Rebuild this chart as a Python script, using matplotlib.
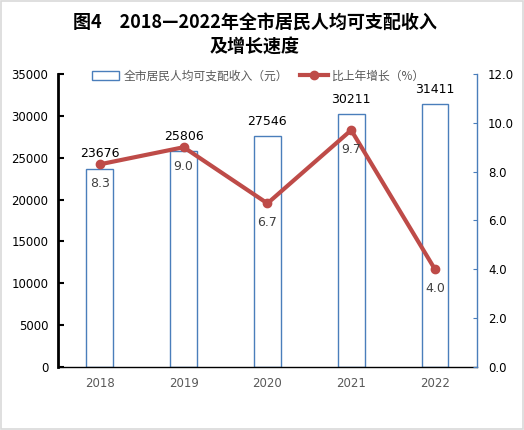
import matplotlib.pyplot as plt
import numpy as np

plt.rcParams['font.family'] = ['DejaVu Sans', 'Noto Sans CJK SC']

# data
years = ['2018', '2019', '2020', '2021', '2022']
income = [23676, 25806, 27546, 30211, 31411]
growth = [8.3, 9.0, 6.7, 9.7, 4.0]

bar_color = '#4A7EBB'
line_color = '#BE4B48'

fig = plt.figure(figsize=(5.24, 4.3), dpi=100)
fig.patches.append(plt.Rectangle((0.002, 0.002), 0.996, 0.996, transform=fig.transFigure,
                                 fill=False, edgecolor='#D9D9D9', linewidth=1.2))

ax = fig.add_axes([0.1107, 0.1465, 0.7993, 0.6815])
x = np.arange(len(years))

bars = ax.bar(x, income, width=0.32, facecolor='white', edgecolor=bar_color, linewidth=1.0,
              label='全市居民人均可支配收入（元）', zorder=2)
ax.set_xlim(-0.5, 4.5)
ax.set_ylim(0, 35000)
ax.set_yticks(np.arange(0, 35001, 5000))
ax.set_xticks(x)
ax.set_xticklabels(years, color='#595959', fontsize=8.5)
ax.tick_params(axis='x', length=0, pad=7)
ax.tick_params(axis='y', direction='in', length=4, width=1.5, labelsize=8.5, pad=7)
ax.spines['left'].set_linewidth(2)
ax.spines['bottom'].set_linewidth(1)
ax.spines['top'].set_visible(False)
ax.spines['right'].set_visible(False)

for xi, v in zip(x, income):
    ax.annotate(str(v), (xi, v), xytext=(0, 6), textcoords='offset points',
                ha='center', va='bottom', fontsize=9, color='black')

ax2 = ax.twinx()
ax2.plot(x, growth, color=line_color, linewidth=3, marker='o', markersize=6,
         label='比上年增长（%）', zorder=3)
ax2.set_ylim(0, 12)
ax2.set_yticks(np.arange(0, 12.1, 2))
ax2.set_yticklabels([f'{t:.1f}' for t in np.arange(0, 12.1, 2)])
ax2.tick_params(axis='y', direction='in', length=3, color=bar_color, labelsize=8.5, pad=8)
for s in ['left', 'top', 'bottom']:
    ax2.spines[s].set_visible(False)
ax2.spines['right'].set_color(bar_color)
ax2.spines['right'].set_linewidth(1)

for xi, v in zip(x, growth):
    ax2.annotate(f'{v:.1f}', (xi, v), xytext=(0, -9), textcoords='offset points',
                 ha='center', va='top', fontsize=9, color='#404040')

h1, l1 = ax.get_legend_handles_labels()
h2, l2 = ax2.get_legend_handles_labels()
leg = fig.legend(h1 + h2, l1 + l2, ncol=2, frameon=False, loc='center',
                 bbox_to_anchor=(0.494, 0.823), handlelength=2.3,
                 columnspacing=1.0, handletextpad=0.4,
                 prop={'family': ['Noto Sans CJK SC'], 'size': 8.5})
for t in leg.get_texts():
    t.set_color('#595959')

fig.text(0.486, 0.948, '图4　2018—2022年全市居民人均可支配收入', ha='center', va='center',
         fontsize=13, fontweight='bold', family=['Noto Sans CJK SC'])
fig.text(0.486, 0.890, '及增长速度', ha='center', va='center',
         fontsize=13, fontweight='bold', family=['Noto Sans CJK SC'])

fig.savefig('out.png', dpi=100)
